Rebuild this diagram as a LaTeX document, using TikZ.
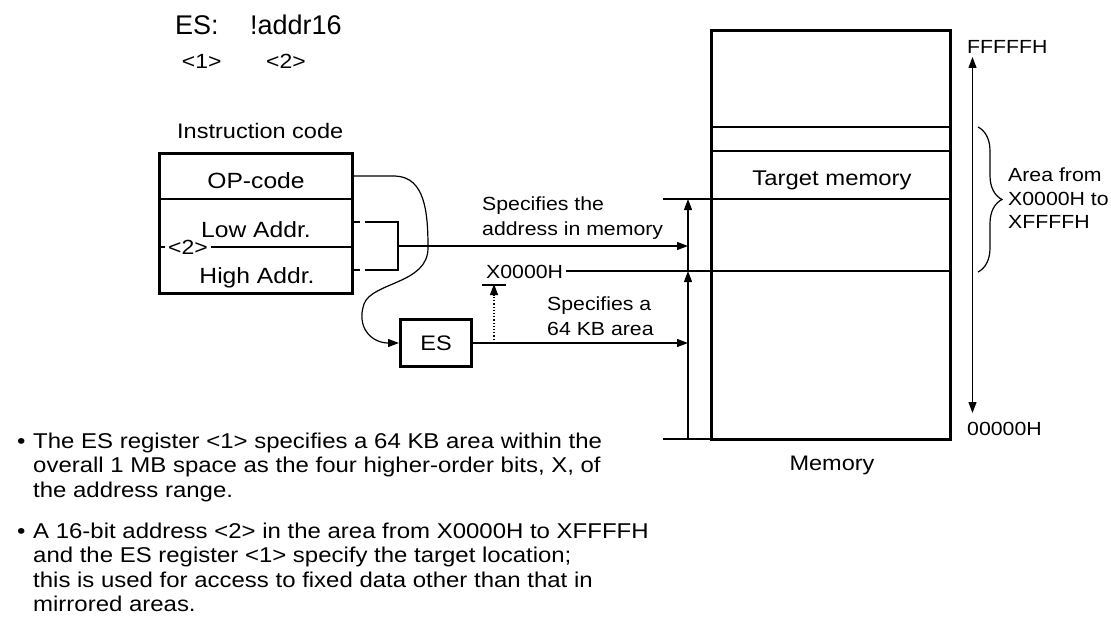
\documentclass[tikz,border=0pt]{standalone}
\usepackage{fontspec}
\setmainfont{Liberation Sans}[FakeStretch=1.12]
\newfontfamily\titlefont{Liberation Sans}
\usetikzlibrary{calc,arrows.meta,decorations.pathreplacing}

\begin{document}
\begin{tikzpicture}[x=1pt,y=-1pt,
  >={Triangle[length=11pt,width=8pt]},
  frame/.style={line width=3pt},
  divider/.style={line width=1.9pt},
  wire/.style={line width=1.2pt},
  gapped/.style={wire,dash pattern=on 8pt off 5pt on 200pt},
  txt/.style={inner sep=0pt,anchor=base west,font=\fontsize{21}{24}\selectfont},
  small/.style={inner sep=0pt,anchor=base west,font=\fontsize{19}{23.3}\selectfont},
  field/.style={inner sep=0pt,anchor=base,font=\fontsize{22}{26}\selectfont},
  body/.style={inner sep=0pt,anchor=base west,align=left,font=\fontsize{21.4}{24.4}\selectfont}]

  \useasboundingbox (0,0) rectangle (1111,626);

  % syntax line
  \node[inner sep=0pt,anchor=base west,font=\titlefont\fontsize{27}{30}\selectfont] (prefix) at (175,35) {ES:};
  \node[inner sep=0pt,anchor=base west,font=\titlefont\fontsize{27}{30}\selectfont] (operand) at (250,35) {!addr16};
  \node[field,font=\fontsize{20.5}{24}\selectfont] (mark1) at (201.7,68) {<1>};
  \node[field,font=\fontsize{20.5}{24}\selectfont] (mark2) at (286,68) {<2>};

  % instruction code
  \node[txt] (icode) at (177,138) {Instruction code};
  \coordinate (op-out) at (352,176);
  \coordinate (lo-out) at (352,222);
  \coordinate (hi-out) at (352,270);
  \coordinate (join)   at (398,246);

  \draw[divider] (159,199) -- (352,199);
  \draw[divider] (159,247) -- (352,247);
  \draw[frame] (159,153) rectangle (352,293);
  \node[field] (opcode) at (256,188) {OP-code};
  \node[field] (lowaddr) at (256,237) {Low Addr.};
  \node[field] (highaddr) at (257,283) {High Addr.};
  \node[fill=white,inner xsep=3pt,inner ysep=1pt,font=\fontsize{20.5}{24}\selectfont] (field2) at (188,247.5) {<2>};

  % ES register
  \node[draw,frame,minimum width=71pt,minimum height=47pt,inner sep=0pt,
        font=\fontsize{21}{24}\selectfont] (es) at (436,343) {ES};

  % memory
  \node[draw,frame,minimum width=239.3pt,minimum height=408pt,inner sep=0pt] (memory) at (831.3,235) {};
  \coordinate (lim-top) at (688,199);
  \coordinate (lim-mid) at (688,271);
  \coordinate (lim-bot) at (688,439);
  \draw[divider] (memory.west |- 0,127) -- (memory.east |- 0,127);
  \draw[divider] (memory.west |- 0,151) -- (memory.east |- 0,151);
  \draw[divider] ([xshift=-25pt]lim-top) -- (memory.east |- lim-top);
  \draw[divider] ([xshift=-25pt]lim-bot) -- (memory.west |- lim-bot);
  \node[field,font=\fontsize{21.3}{24}\selectfont] (target) at (832,185) {Target memory};
  \node[field,font=\fontsize{21}{24}\selectfont] (memlabel) at (832,470) {Memory};

  \node[small] (x0000h) at (486,278.3) {X0000H};
  \draw[divider] ($(x0000h.east |- lim-mid)+(3,0)$) -- (memory.east |- lim-mid);
  \coordinate (x-under) at (494,285);
  \draw[wire] ([xshift=-12pt]x-under) -- ([xshift=12pt]x-under);

  % connectors
  \draw[wire,->] (op-out) -- (395,176)
    .. controls (425,177) and (428,212) .. (428,248)
    .. controls (428,284) and (372,282) .. (364,304)
    .. controls (356,328) and (372,343) .. (es.west);
  \draw[gapped] (lo-out) -| (join);
  \draw[gapped] (hi-out) -| (join);
  \draw[wire,->] (join) -- (join -| lim-mid);
  \draw[wire,->] (es.east) -- (es.east -| lim-mid);
  \draw[wire,dotted,->] (es.east -| x-under) -- ([yshift=1pt]x-under);
  \draw[wire,->] (lim-bot) -- (lim-mid);
  \draw[wire,->] (lim-mid) -- (lim-top);

  \node[small] (spec-addr1) at (482,210) {Specifies the};
  \node[small] (spec-addr2) at (482,235) {address in memory};
  \node[small] (spec-area1) at (547,310) {Specifies a};
  \node[small] (spec-area2) at (547,335) {64 KB area};

  % address range
  \coordinate (top-addr) at (972.5,57);
  \coordinate (bot-addr) at (972.5,413);
  \draw[wire,<->] (top-addr) -- (bot-addr);
  \node[small] (fffffh) at (967,54) {FFFFFH};
  \node[small] (zeroh) at (967,435) {00000H};
  \draw[wire,decorate,decoration={brace,amplitude=24pt}] (978,127) -- (978,272);
  \node[small] (area1) at (1008,181.7) {Area from};
  \node[small] (area2) at (1008,205) {X0000H to};
  \node[small] (area3) at (1008,228.5) {XFFFFH};

  % notes (base = last line)
  \node[body] (bullet1) at (17,448) {\textbullet};
  \node[body] (note1) at (33,497) {The ES register <1> specifies a 64 KB area within the\\
    overall 1 MB space as the four higher-order bits, X, of\\
    the address range.};
  \node[body] (bullet2) at (17,538.5) {\textbullet};
  \node[body] (note2) at (33,611.5) {A 16-bit address <2> in the area from X0000H to XFFFFH\\
    and the ES register <1> specify the target location;\\
    this is used for access to fixed data other than that in\\
    mirrored areas.};

\end{tikzpicture}
\end{document}
